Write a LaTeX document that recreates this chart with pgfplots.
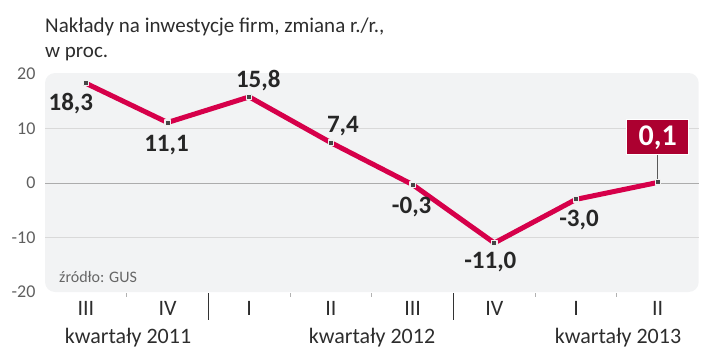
\documentclass[border=0pt]{standalone}
\usepackage{pgfplots}
\pgfplotsset{compat=1.18}
\usepackage{fontspec}
\setmainfont{Carlito}
\definecolor{linered}{RGB}{214,0,74}
\definecolor{boxred}{RGB}{172,0,48}
\definecolor{bggray}{RGB}{242,243,244}
\definecolor{txtgray}{RGB}{45,45,45}
\definecolor{tickgray}{RGB}{95,95,95}
\tikzset{lab/.style={font=\fontsize{25}{28}\selectfont\bfseries, text=black!85},
  minor/.style={gray!60, line width=0.8pt},
  sep/.style={gray!40!black, line width=1.5pt}}
\begin{document}
\begin{tikzpicture}[x=1pt,y=1pt]
\useasboundingbox (0,0) rectangle (720,357);
\fill[bggray, rounded corners=10pt] (45,65) rectangle (698.7,284);
\node[anchor=base west, inner sep=0, font=\fontsize{21}{24}\selectfont, text=txtgray] at (45,324) {Nakłady na inwestycje firm, zmiana r./r.,};
\node[anchor=base west, inner sep=0, font=\fontsize{21}{24}\selectfont, text=txtgray] at (45,299) {w proc.};
\node[anchor=base, font=\fontsize{22}{26}\selectfont, text=txtgray] at (128,14) {kwartały 2011};
\node[anchor=base, font=\fontsize{22}{26}\selectfont, text=txtgray] at (372,14) {kwartały 2012};
\node[anchor=base, font=\fontsize{22}{26}\selectfont, text=txtgray] at (618,14) {kwartały 2013};
\node[anchor=base west, inner sep=0, font=\fontsize{16}{18}\selectfont, text=gray!80!black] at (59,75) {źródło: GUS};
\begin{axis}[
  at={(45pt,65pt)}, anchor=south west,
  scale only axis, width=653.6pt, height=218pt,
  xmin=-0.5, xmax=7.5, ymin=-20, ymax=20,
  clip=false,
  axis line style={draw=none},
  tick style={draw=none},
  xtick={0,...,7},
  xticklabels={III,IV,I,II,III,IV,I,II},
  xticklabel style={anchor=base, yshift=-23pt, font=\fontsize{22}{26}\selectfont, text=txtgray},
  ytick={-20,-10,0,10,20},
  yticklabels={-20,-10,0,10,20},
  yticklabel style={anchor=east, xshift=-6pt, font=\fontsize{18}{20}\selectfont, text=tickgray},
]
\draw[gray!30, line width=0.8pt] (axis cs:-0.5,10) -- (axis cs:7.5,10);
\draw[gray!30, line width=0.8pt] (axis cs:-0.5,-10) -- (axis cs:7.5,-10);
\draw[gray!65, line width=1pt] (axis cs:-0.5,0) -- (axis cs:7.5,0);
\draw[gray!70!black, line width=1pt] (axis cs:7,0.1) -- ++(0pt,28pt);
\addplot[linered, line width=5pt, line join=round, mark=square*, mark size=2.6pt,
  mark options={fill=gray!55!black, draw=white!88!gray, line width=1.2pt}]
  coordinates {(0,18.3)(1,11.1)(2,15.8)(3,7.4)(4,-0.3)(5,-11.0)(6,-3.0)(7,0.1)};
\node[lab] at (axis cs:0,18.3) [xshift=-15pt, yshift=-20pt] {18,3};
\node[lab] at (axis cs:1,11.1) [xshift=-1pt, yshift=-23pt] {11,1};
\node[lab] at (axis cs:2,15.8) [xshift=9pt, yshift=16pt] {15,8};
\node[lab] at (axis cs:3,7.4) [xshift=12pt, yshift=17pt] {7,4};
\node[lab] at (axis cs:4,-0.3) [xshift=-1pt, yshift=-22pt] {-0,3};
\node[lab] at (axis cs:5,-11.0) [xshift=-4pt, yshift=-19pt] {-11,0};
\node[lab] at (axis cs:6,-3.0) [xshift=3pt, yshift=-21pt] {-3,0};
\node[fill=boxred, draw=white, line width=1pt, text=white, minimum width=62pt, minimum height=35pt, inner sep=2pt,
  font=\fontsize{30}{32}\selectfont\bfseries] at (axis cs:7,0.1) [yshift=45pt] {0,1};
\draw[minor] (axis cs:0.5,-20) ++(0pt,-1pt) -- ++(0pt,-4pt);
\draw[minor] (axis cs:2.5,-20) ++(0pt,-1pt) -- ++(0pt,-4pt);
\draw[minor] (axis cs:3.5,-20) ++(0pt,-1pt) -- ++(0pt,-4pt);
\draw[minor] (axis cs:5.5,-20) ++(0pt,-1pt) -- ++(0pt,-4pt);
\draw[minor] (axis cs:6.5,-20) ++(0pt,-1pt) -- ++(0pt,-4pt);
\draw[sep] (axis cs:1.5,-20) ++(0pt,-1pt) -- ++(0pt,-27pt);
\draw[sep] (axis cs:4.5,-20) ++(0pt,-1pt) -- ++(0pt,-27pt);
\end{axis}
\end{tikzpicture}
\end{document}
